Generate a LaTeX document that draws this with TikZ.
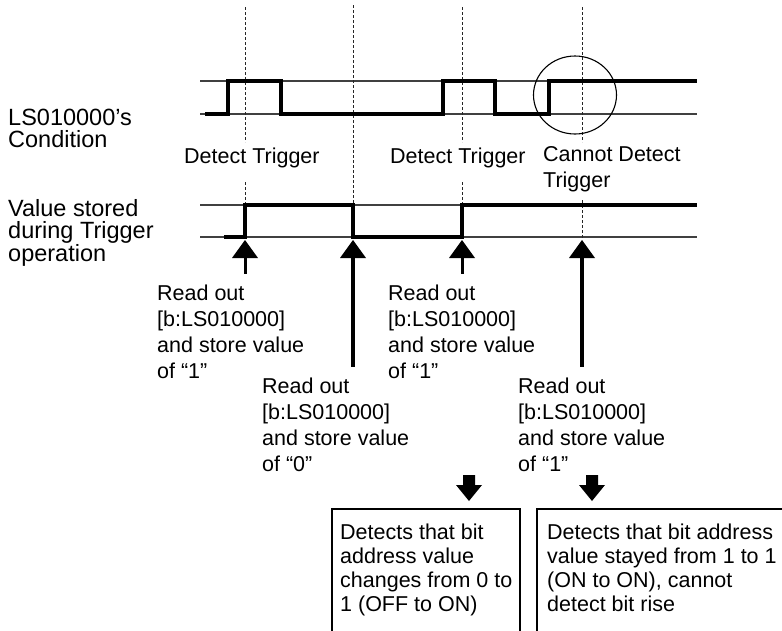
\documentclass[tikz,border=0pt]{standalone}
\usepackage{fontspec}
\setmainfont{Liberation Sans}
\usetikzlibrary{arrows.meta}
\setlength{\lineskiplimit}{-30pt}
\begin{document}
\begin{tikzpicture}[x=1pt,y=-1pt,
  guide/.style={line width=1.2pt, black!75},
  wave/.style={line width=3.2pt, line join=miter, line cap=butt},
  dashv/.style={line width=1pt, dash pattern=on 3pt off 2pt, black!85},
  lbl/.style={font=\fontsize{21.5}{26}\selectfont, inner sep=0pt, align=left, anchor=north west},
  boxlbl/.style={font=\fontsize{21.5}{24}\selectfont, inner sep=0pt, align=left, anchor=north west},
  side/.style={inner sep=0pt, align=left, anchor=north west},
  trig/.style={font=\fontsize{21.5}{26}\selectfont, inner sep=0pt, anchor=base west},
  shaft/.style={line width=3pt},
  longshaft/.style={line width=4pt},
  boxline/.style={line width=2pt},
  head/.style={fill=black}
]
\useasboundingbox (0,0) rectangle (782,630);
\clip (0,0) rectangle (782,630);

% guide lines
\draw[guide] (200,81) -- (697,81);
\draw[guide] (200,114) -- (697,114);
\draw[guide] (200,205) -- (697,205);
\draw[guide] (200,237) -- (697,237);

% dashed verticals
\draw[dashv] (245,7) -- (245,142);
\draw[dashv] (245,182) -- (245,205);
\draw[dashv] (353,5) -- (353,240);
\draw[dashv] (462,7) -- (462,142);
\draw[dashv] (462,182) -- (462,205);
\draw[dashv] (582,7) -- (582,142);
\draw[dashv] (582,200) -- (582,240);

% waveforms
\draw[wave] (205,114) -- (228,114) -- (228,81) -- (281,81) -- (281,114) -- (443,114) -- (443,81) -- (495,81) -- (495,114) -- (549,114) -- (549,81) -- (697,81);
\draw[wave] (224,237) -- (245,237) -- (245,205) -- (353,205) -- (353,237) -- (462,237) -- (462,205) -- (697,205);

% circle
\draw[line width=1.1pt] (575,95) ellipse [x radius=41.5, y radius=39];

% side labels
\node[side, font=\fontsize{23.5}{22}\selectfont] (cond) at (8,109) {LS010000’s\\Condition};
\node[side, font=\fontsize{23.5}{22.5}\selectfont] (stored) at (8,199) {Value stored\\during Trigger\\operation};

% trigger labels
\node[trig] (dt1) at (184,163) {Detect Trigger};
\node[trig] (dt2) at (390,163) {Detect Trigger};
\node[lbl] (cdt) at (543,146.3) {Cannot Detect\\Trigger};

% read out labels
\node[lbl] (r1) at (157,284.3) {Read out\\{[b:LS010000]}\\and store value\\of “1”};
\node[lbl] (r2) at (262,377.3) {Read out\\{[b:LS010000]}\\and store value\\of “0”};
\node[lbl] (r3) at (388,284.3) {Read out\\{[b:LS010000]}\\and store value\\of “1”};
\node[lbl] (r4) at (518,377.3) {Read out\\{[b:LS010000]}\\and store value\\of “1”};

% up arrows
\coordinate (t1) at (245,240); \coordinate (b1) at (245,274);
\coordinate (t2) at (353,240); \coordinate (b2) at (353,367);
\coordinate (t3) at (462,240); \coordinate (b3) at (462,274);
\coordinate (t4) at (582,240); \coordinate (b4) at (582,367);
\draw[shaft] ([yshift=-16pt]t1) -- (b1);
\draw[longshaft] ([yshift=-16pt]t2) -- (b2);
\draw[shaft] ([yshift=-16pt]t3) -- (b3);
\draw[longshaft] ([yshift=-16pt]t4) -- (b4);
\foreach \t in {t1,t2,t3,t4} { \fill[head] (\t) -- ++(-13,18) -- ++(26,0) -- cycle; }

% down arrows
\coordinate (d1) at (469,501);
\coordinate (d2) at (592,501);
\foreach \d in {d1,d2} {
  \fill[head] (\d) -- ++(-13,-16) -- ++(7,0) -- ++(0,-10) -- ++(12,0) -- ++(0,10) -- ++(7,0) -- cycle;
}

% boxes
\draw[boxline] (332,660) -- (332,509) -- (520,509) -- (520,660);
\draw[boxline] (537,660) -- (537,509) -- (800,509);
\node[boxlbl] (bx1) at (340,523.3) {Detects that bit\\address value\\changes from 0 to\\1 (OFF to ON)};
\node[boxlbl] (bx2) at (547,523.3) {Detects that bit address\\value stayed from 1 to 1\\(ON to ON), cannot\\detect bit rise};
\end{tikzpicture}
\end{document}
